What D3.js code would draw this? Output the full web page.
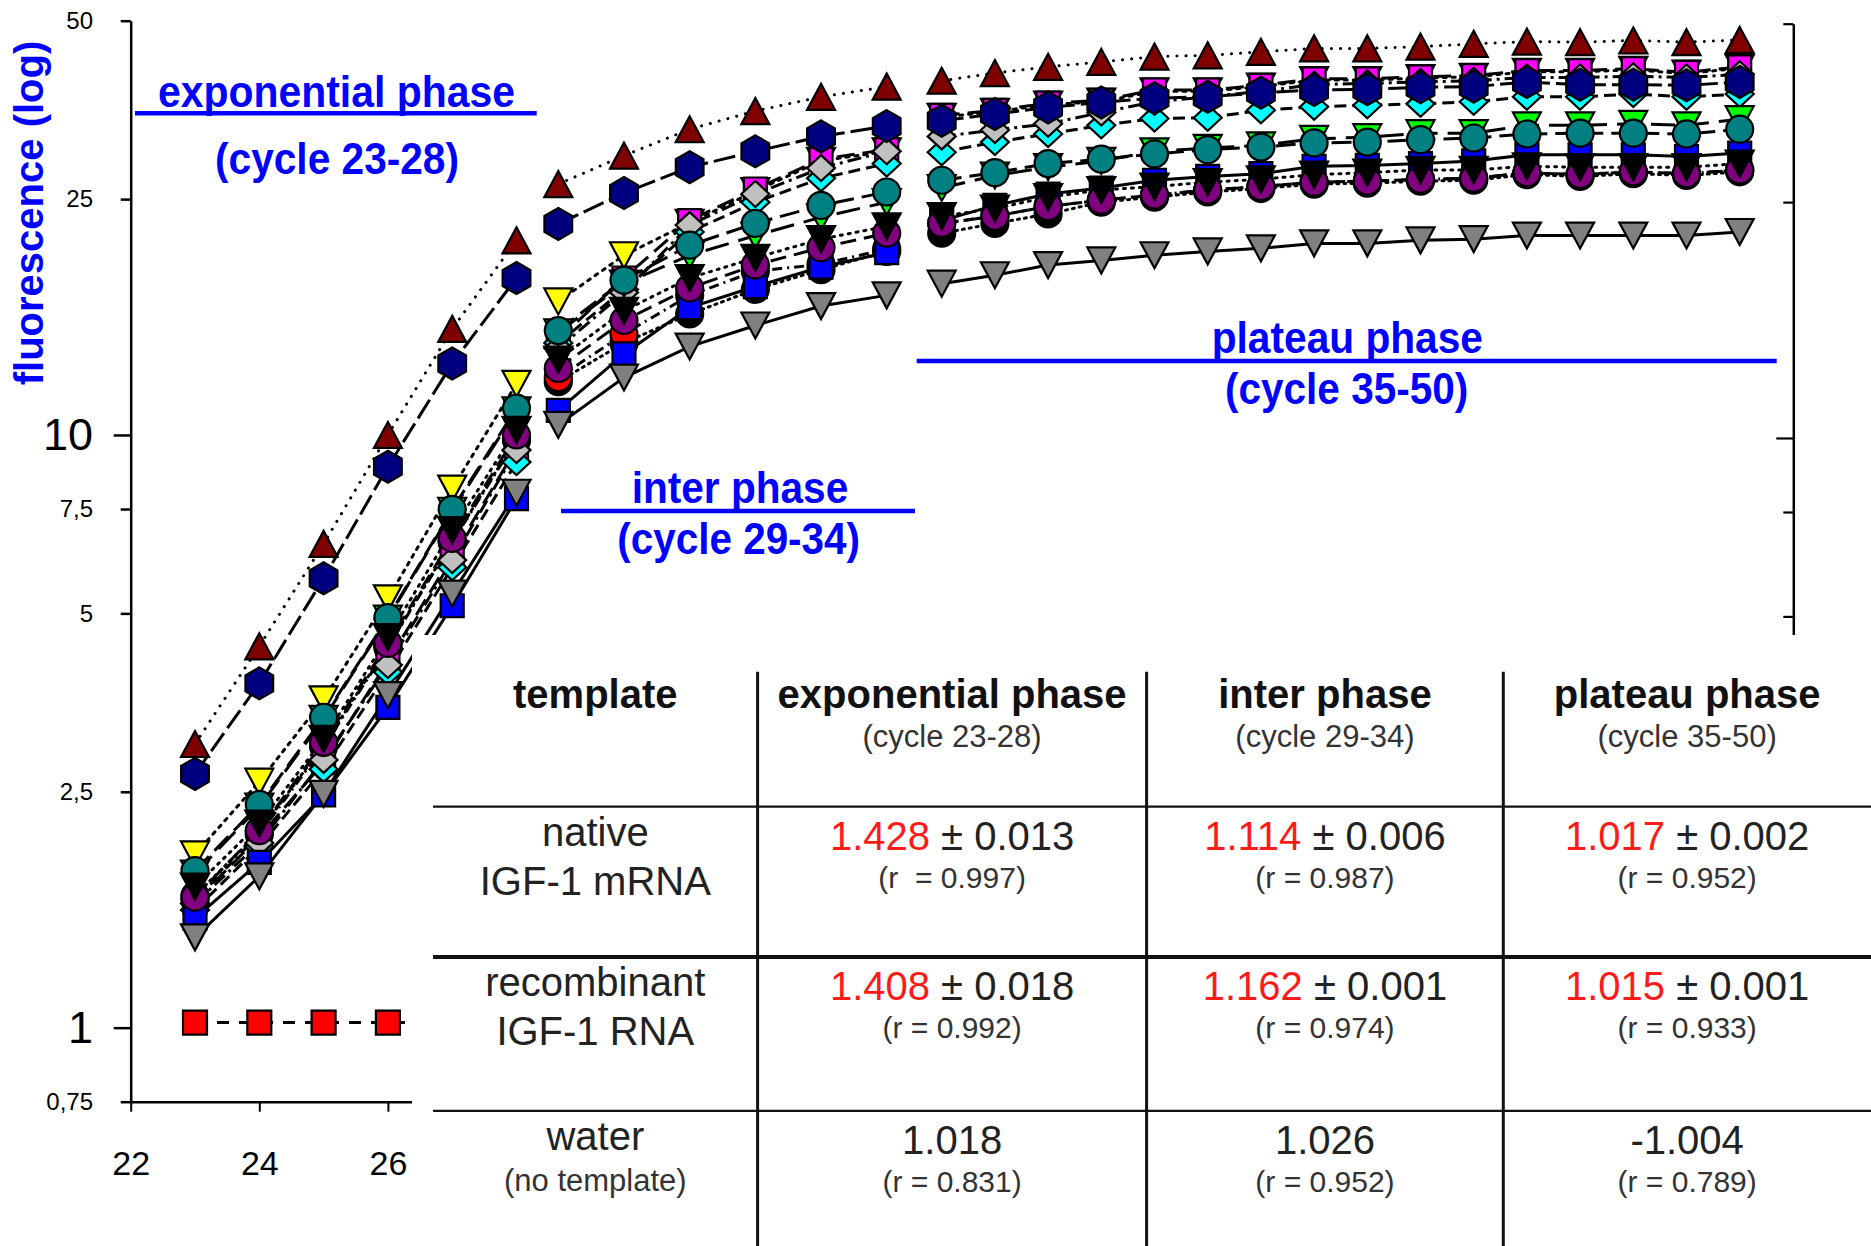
<!DOCTYPE html>
<html>
<head>
<meta charset="utf-8">
<script src="https://cdn.jsdelivr.net/npm/d3@7"></script>
<style>
html, body { margin: 0; padding: 0; background: #fff; }
svg { display: block; font-family: "Liberation Sans", Arial, sans-serif; }
text { white-space: pre; }
</style>
</head>
<body>
<svg id="chart" width="1871" height="1246"></svg>
<script>
// cycles of the three phases (each phase has its own x spacing in the figure)
var cyclesExp = [23, 24, 25, 26, 27, 28];
var cyclesInter = [29, 30, 31, 32, 33, 34];
var cyclesPlateau = [35, 36, 37, 38, 39, 40, 41, 42, 43, 44, 45, 46, 47, 48, 49, 50];

var yTicks = [0.75, 1, 2.5, 5, 7.5, 10, 25, 50];
var yMajor = [1, 10];
var xTicks = [22, 24, 26];
var rightTicks = [5, 7.5, 10, 25, 50];

// fluorescence per sample, cycles 23..50 (6 + 6 + 16 values)
var maroonTri = [3.01, 4.40, 6.55, 10.0, 15.1, 21.3,
  26.5, 29.6, 32.8, 35.2, 37.2, 38.7,
  39.6, 40.8, 41.8, 42.6, 43.5, 43.7, 44.3, 44.9, 44.9, 45.2, 45.7, 46.1, 46.0, 46.3, 46.0, 46.4];
var navyHex = [2.68, 3.81, 5.73, 8.84, 13.2, 18.4,
  22.7, 25.6, 28.3, 30.1, 31.9, 33.2,
  33.9, 34.8, 35.7, 36.4, 37.0, 37.2, 37.8, 38.2, 38.3, 38.6, 38.7, 39.4, 39.0, 39.0, 38.9, 39.4];
var magentaSq = [1.63, 2.10, 2.80, 4.15, 6.25, 9.5,
  14.5, 18.4, 23.0, 26.0, 29.2, 30.3,
  34.6, 35.3, 36.3, 36.7, 38.2, 38.2, 38.9, 39.9, 39.9, 40.2, 40.4, 41.2, 41.2, 41.5, 40.9, 41.8];
var silverDia = [1.62, 2.05, 2.83, 4.09, 6.15, 9.43,
  14.0, 17.4, 22.6, 25.5, 28.2, 30.1,
  31.9, 32.7, 33.5, 35.0, 36.5, 37.2, 38.0, 39.0, 39.2, 39.4, 39.6, 40.1, 40.1, 40.3, 40.1, 40.6];
var cyanDia = [1.58, 2.02, 2.73, 3.98, 5.98, 9.0,
  14.3, 17.6, 22.0, 24.7, 27.1, 28.7,
  30.0, 31.2, 32.2, 33.3, 34.2, 34.3, 35.3, 35.8, 36.0, 36.2, 36.5, 37.2, 37.2, 37.6, 37.2, 37.6];
var greenTri = [1.82, 2.36, 3.32, 4.90, 7.45, 11.0,
  14.9, 18.0, 20.1, 21.7, 23.3, 24.7,
  26.1, 27.4, 28.3, 29.0, 30.1, 30.5, 30.8, 31.6, 31.8, 32.3, 32.3, 33.3, 33.3, 33.5, 33.3, 34.1];
var tealCirc = [1.84, 2.38, 3.34, 4.92, 7.49, 11.1,
  15.0, 18.25, 20.9, 22.75, 24.4, 25.7,
  26.9, 27.7, 28.7, 29.2, 29.8, 30.3, 30.6, 31.1, 31.2, 31.5, 31.7, 32.2, 32.3, 32.3, 32.2, 32.8];
var yellowTri = [1.96, 2.60, 3.58, 5.30, 8.12, 12.2,
  16.8, 20.1, 22.8, 25.8, 29.0, 30.1,
  34.4, 35.1, 36.1, 36.5, 38.0, 38.0, 38.7, 39.7, 39.7, 40.0, 40.2, 41.0, 41.0, 41.3, 40.7, 41.6];
var blueSq = [1.53, 1.90, 2.47, 3.47, 5.15, 7.81,
  11.0, 13.7, 16.4, 17.8, 19.2, 20.3,
  23.0, 24.4, 25.5, 26.1, 26.9, 27.3, 27.6, 28.4, 28.5, 28.7, 29.0, 29.7, 29.7, 29.7, 29.5, 29.9];
var greyTri = [1.42, 1.80, 2.48, 3.64, 5.40, 7.99,
  10.4, 12.5, 14.1, 15.3, 16.5, 17.2,
  18.0, 18.6, 19.35, 19.7, 20.1, 20.4, 20.65, 21.05, 21.05, 21.3, 21.4, 21.7, 21.7, 21.7, 21.7, 22.0];
var blackTri = [1.73, 2.21, 3.07, 4.56, 6.91, 10.2,
  13.4, 16.2, 18.4, 19.9, 21.4, 22.5,
  23.4, 24.1, 25.2, 25.9, 26.25, 26.7, 27.0, 27.5, 27.7, 28.0, 28.0, 28.4, 28.3, 28.3, 28.3, 28.7];
var purpleCirc = [1.66, 2.15, 3.03, 4.45, 6.69, 10.0,
  12.95, 15.6, 17.7, 19.35, 20.7, 21.9,
  22.75, 23.4, 24.3, 24.9, 25.4, 25.9, 26.25, 26.7, 26.8, 27.0, 27.1, 27.7, 27.5, 27.8, 27.6, 28.0];
var redCirc = [1.64, 2.12, 2.98, 4.38, 6.60, 9.80,
  12.5, 14.8, 17.2, 18.9, 19.4, 20.6,
  22.75, 23.4, 24.3, 24.9, 25.4, 25.9, 26.25, 26.7, 26.8, 27.0, 27.1, 27.7, 27.5, 27.8, 27.6, 28.0];
var blackCirc = [1.67, 2.14, 3.00, 4.40, 6.62, 9.85,
  12.3, 14.3, 16.0, 17.6, 19.0, 20.4,
  21.9, 22.75, 23.6, 24.7, 25.2, 25.7, 26.05, 26.5, 26.6, 26.8, 26.9, 27.5, 27.3, 27.6, 27.4, 27.8];
var waterSq = [1.02, 1.02, 1.02, 1.02, 1.02, 1.02,
  1.02, 1.02, 1.02, 1.02, 1.02, 1.02,
  1.02, 1.02, 1.02, 1.02, 1.02, 1.02, 1.02, 1.02, 1.02, 1.02, 1.02, 1.02, 1.02, 1.02, 1.02, 1.02];

// table of amplification efficiencies
var tableHeads = ["template", "exponential phase", "inter phase", "plateau phase"];
var tableSubs = ["", "(cycle 23-28)", "(cycle 29-34)", "(cycle 35-50)"];
var templates = [["native", "IGF-1 mRNA"], ["recombinant", "IGF-1 RNA"], ["water", "(no template)"]];
var slopes = [["1.428", "1.114", "1.017"], ["1.408", "1.162", "1.015"], ["1.018", "1.026", "-1.004"]];
var slopeErr = [["0.013", "0.006", "0.002"], ["0.018", "0.001", "0.001"], [null, null, null]];
var rValues = [["(r  = 0.997)", "(r = 0.987)", "(r = 0.952)"],
  ["(r = 0.992)", "(r = 0.974)", "(r = 0.933)"],
  ["(r = 0.831)", "(r = 0.952)", "(r = 0.789)"]];

var phaseNames = ["exponential phase", "inter phase", "plateau phase"];
var phaseCycles = ["(cycle 23-28)", "(cycle 29-34)", "(cycle 35-50)"];

// draw order: first is bottom
var series = [
  {values: blackCirc, fill: "#000000", shape: "circle", dash: "2,5", cap: "round"},
  {values: redCirc, fill: "#ff0000", shape: "circle", dash: "10,5,2,5"},
  {values: yellowTri, fill: "#ffff00", shape: "triDown", dash: "3,6", cap: "round"},
  {values: magentaSq, fill: "#ff00ff", shape: "square", dash: "18,8"},
  {values: cyanDia, fill: "#00ffff", shape: "diamond", dash: "12,6"},
  {values: silverDia, fill: "#c0c0c0", shape: "diamond", dash: "14,5,3,5"},
  {values: blueSq, fill: "#0000ff", shape: "square", dash: null},
  {values: greyTri, fill: "#808080", shape: "triDown", dash: null},
  {values: greenTri, fill: "#00ff00", shape: "triDown", dash: "24,10"},
  {values: tealCirc, fill: "#008080", shape: "circle", dash: "20,8"},
  {values: purpleCirc, fill: "#800080", shape: "circle", dash: "16,8"},
  {values: blackTri, fill: "#000000", shape: "triDown", dash: "2,6", cap: "round"},
  {values: navyHex, fill: "#000080", shape: "hex", dash: "22,6"},
  {values: maroonTri, fill: "#800000", shape: "triUp", dash: "0.1,9", cap: "round"},
  {values: waterSq, fill: "#ff0000", shape: "bigSquare", dash: "12,10"}
];

function shapePath(shape) {
  var p = d3.path();
  if (shape === "circle") {
    p.arc(0, 0, 13.5, 0, 2 * Math.PI);
  } else if (shape === "triUp") {
    p.moveTo(0, -13); p.lineTo(14, 13); p.lineTo(-14, 13); p.closePath();
  } else if (shape === "triDown") {
    p.moveTo(-14, -13); p.lineTo(14, -13); p.lineTo(0, 13); p.closePath();
  } else if (shape === "square") {
    p.rect(-11.5, -11.5, 23, 23);
  } else if (shape === "bigSquare") {
    p.rect(-12, -12, 24, 24);
  } else if (shape === "diamond") {
    p.moveTo(0, -13); p.lineTo(14, 0); p.lineTo(0, 13); p.lineTo(-14, 0); p.closePath();
  } else if (shape === "hex") {
    for (var k = 0; k < 6; k++) {
      var a = -Math.PI / 2 + k * Math.PI / 3;
      if (k === 0) p.moveTo(16 * Math.cos(a), 16 * Math.sin(a));
      else p.lineTo(16 * Math.cos(a), 16 * Math.sin(a));
    }
    p.closePath();
  }
  return p.toString();
}

var svg = d3.select("#chart");

var y = d3.scaleLog().domain([0.75, 50]).range([1101.7, 20.7]);

var panels = [
  {cycles: cyclesExp, x: d3.scaleLinear().domain([22, 28]).range([130.7, 516.5]), start: 0},
  {cycles: cyclesInter, x: d3.scaleLinear().domain([29, 34]).range([558.3, 886.7]), start: 6},
  {cycles: cyclesPlateau, x: d3.scaleLinear().domain([35, 50]).range([941.7, 1739.7]), start: 12}
];

// lines, each phase drawn separately
var lineG = svg.append("g");
series.forEach(function (s) {
  panels.forEach(function (p) {
    var pts = p.cycles.map(function (c, i) { return [c, s.values[p.start + i]]; });
    var line = d3.line()
      .defined(function (d) { return d[1] != null; })
      .x(function (d) { return p.x(d[0]); })
      .y(function (d) { return y(d[1]); });
    lineG.append("path")
      .attr("d", line(pts))
      .attr("fill", "none")
      .attr("stroke", "#000")
      .attr("stroke-width", 3)
      .attr("stroke-linecap", s.cap || "butt")
      .attr("stroke-dasharray", s.dash);
  });
});

// markers
var markG = svg.append("g");
series.forEach(function (s) {
  var d = shapePath(s.shape);
  panels.forEach(function (p) {
    var pts = p.cycles.map(function (c, i) { return [c, s.values[p.start + i]]; })
      .filter(function (q) { return q[1] != null; });
    markG.append("g").selectAll("path")
      .data(pts)
      .enter()
      .append("path")
      .attr("d", d)
      .attr("transform", function (q) { return "translate(" + p.x(q[0]) + "," + y(q[1]) + ")"; })
      .attr("fill", s.fill)
      .attr("stroke", "#000")
      .attr("stroke-width", 2.2);
  });
});

// left axis
var leftAxis = svg.append("g")
  .attr("transform", "translate(130.7,0)")
  .call(d3.axisLeft(y).tickValues(yTicks).tickSizeOuter(0)
    .tickFormat(function (d) { return String(d).replace(".", ","); }));
leftAxis.select(".domain").attr("stroke-width", 2.5);
leftAxis.selectAll(".tick line")
  .attr("stroke-width", 2.5)
  .attr("x2", function (d) { return yMajor.indexOf(d) >= 0 ? -17 : -10; });
leftAxis.selectAll(".tick text")
  .attr("x", -37.7)
  .attr("fill", "#000")
  .style("font-family", "'Liberation Sans', Arial, sans-serif")
  .style("font-size", function (d) { return yMajor.indexOf(d) >= 0 ? "45px" : "24px"; });

// bottom axis of the exponential panel
var bottomAxis = svg.append("g")
  .attr("transform", "translate(0,1101.7)")
  .call(d3.axisBottom(panels[0].x).tickValues(xTicks).tickSize(10).tickSizeOuter(0)
    .tickFormat(d3.format("d")));
bottomAxis.select(".domain").attr("stroke-width", 2.5);
bottomAxis.selectAll(".tick line").attr("stroke-width", 2);
bottomAxis.selectAll(".tick text")
  .attr("y", 49)
  .attr("fill", "#000")
  .style("font-family", "'Liberation Sans', Arial, sans-serif")
  .style("font-size", "34px");

// right axis of the plateau panel
var rightAxis = svg.append("g")
  .attr("transform", "translate(1793.3,3)")
  .call(d3.axisRight(y).tickValues(rightTicks).tickSizeOuter(0).tickFormat(""));
rightAxis.select(".domain").attr("stroke-width", 2.5);
rightAxis.selectAll(".tick line")
  .attr("stroke-width", 2.2)
  .attr("x2", function (d) { return d === 10 ? -17 : -10; });

// y title
svg.append("text")
  .attr("transform", "translate(31,213) rotate(-90)")
  .attr("text-anchor", "middle")
  .attr("dy", "0.3em")
  .attr("fill", "#0000ff")
  .style("font-weight", "bold")
  .style("font-size", "40px")
  .text("fluorescence (log)");

// phase labels with their rules
var phaseLayout = [
  {nx: 158, ny: 107, nw: 357, cx: 215, cy: 174, cw: 244, x1: 135, x2: 536.7, ly: 113.3},
  {nx: 631.7, ny: 503, nw: 216.6, cx: 617.3, cy: 554, cw: 242.7, x1: 561, x2: 915, ly: 511},
  {nx: 1211.7, ny: 353, nw: 271.3, cx: 1225, cy: 404, cw: 243.3, x1: 916.7, x2: 1776.7, ly: 361}
];
var phaseG = svg.append("g").attr("fill", "#0000ff").style("font-weight", "bold").style("font-size", "44px");
phaseLayout.forEach(function (L, i) {
  phaseG.append("line")
    .attr("x1", L.x1).attr("x2", L.x2).attr("y1", L.ly).attr("y2", L.ly)
    .attr("stroke", "#0000ff").attr("stroke-width", 4.5);
  phaseG.append("text")
    .attr("x", L.nx).attr("y", L.ny)
    .attr("textLength", L.nw).attr("lengthAdjust", "spacingAndGlyphs")
    .text(phaseNames[i]);
  phaseG.append("text")
    .attr("x", L.cx).attr("y", L.cy)
    .attr("textLength", L.cw).attr("lengthAdjust", "spacingAndGlyphs")
    .text(phaseCycles[i]);
});

// table laid over the lower right of the plot
var colEdges = [433, 757.6, 1146.6, 1503.3, 1871];
var rowTops = [671.7, 806.6, 956.9, 1110.8];
var tbl = svg.append("g");
tbl.append("rect")
  .attr("x", 412).attr("y", 635)
  .attr("width", 1871 - 412).attr("height", 1246 - 635)
  .attr("fill", "#fff");
[{y: rowTops[1], w: 2.2}, {y: rowTops[2], w: 4}, {y: rowTops[3], w: 2.2}].forEach(function (r) {
  tbl.append("line")
    .attr("x1", colEdges[0]).attr("x2", 1871).attr("y1", r.y).attr("y2", r.y)
    .attr("stroke", "#111").attr("stroke-width", r.w);
});
colEdges.slice(1, 4).forEach(function (cx) {
  tbl.append("line")
    .attr("x1", cx).attr("x2", cx).attr("y1", rowTops[0]).attr("y2", 1246)
    .attr("stroke", "#111").attr("stroke-width", 3);
});

function colMid(i) { return (colEdges[i] + colEdges[i + 1]) / 2; }

tableHeads.forEach(function (h, i) {
  tbl.append("text")
    .attr("x", colMid(i)).attr("y", 707.5)
    .attr("text-anchor", "middle")
    .attr("fill", "#111")
    .style("font-weight", "bold").style("font-size", "40px")
    .text(h);
  if (tableSubs[i]) {
    tbl.append("text")
      .attr("x", colMid(i)).attr("y", 747)
      .attr("text-anchor", "middle")
      .attr("fill", "#333")
      .style("font-size", "31px")
      .text(tableSubs[i]);
  }
});

templates.forEach(function (t, r) {
  var top = rowTops[r + 1];
  var small = t[1].charAt(0) === "(";
  tbl.append("text")
    .attr("x", colMid(0)).attr("y", top + 39)
    .attr("text-anchor", "middle").attr("fill", "#222")
    .style("font-size", "40px")
    .text(t[0]);
  tbl.append("text")
    .attr("x", colMid(0)).attr("y", top + (small ? 80 : 88))
    .attr("text-anchor", "middle").attr("fill", small ? "#333" : "#222")
    .style("font-size", small ? "31px" : "40px")
    .text(t[1]);
  slopes[r].forEach(function (v, c) {
    var tx = tbl.append("text")
      .attr("x", colMid(c + 1)).attr("y", top + 43)
      .attr("text-anchor", "middle")
      .style("font-size", "40px");
    var err = slopeErr[r][c];
    tx.append("tspan").attr("fill", err ? "#ff1a1a" : "#222").text(v);
    if (err) tx.append("tspan").attr("fill", "#222").text(" \u00b1 " + err);
    tbl.append("text")
      .attr("x", colMid(c + 1)).attr("y", top + 81)
      .attr("text-anchor", "middle").attr("fill", "#333")
      .style("font-size", "30px")
      .text(rValues[r][c]);
  });
});
</script>
</body>
</html>
